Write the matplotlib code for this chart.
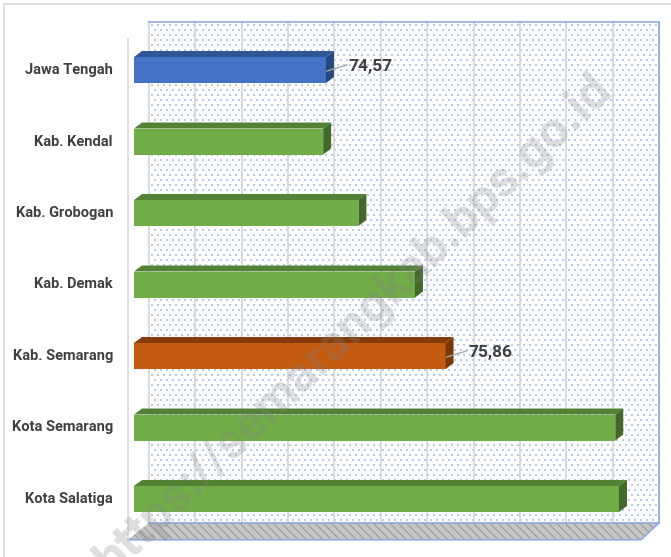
import numpy as np
import matplotlib.pyplot as plt
from matplotlib.patches import Polygon, Rectangle

# life expectancy by region
categories = ["Jawa Tengah", "Kab. Kendal", "Kab. Grobogan", "Kab. Demak",
              "Kab. Semarang", "Kota Semarang", "Kota Salatiga"]
values = [74.57, 74.54, 74.92, 75.53, 75.86, 77.69, 77.73]
labelled = ["Jawa Tengah", "Kab. Semarang"]

x_min, x_max, x_step = 72.5, 78.0, 0.5

W, H = 671, 557
PX_X = 510 / (x_max - x_min)     # pixels per value unit
PX_Y = 71.5                      # pixels per category
LEFT_PX = 134                    # front plane left edge
TOP_PX = 70                      # centre of first category
FONT = "Roboto"

face = {"Jawa Tengah": ("#4472C4", "#2F5597", "#264780"),
        "Kab. Semarang": ("#C55A11", "#843C0C", "#7A370B")}
green = ("#70AD47", "#548235", "#41692A")

fig = plt.figure(figsize=(W / 100, H / 100), dpi=100)
ax = fig.add_axes([0, 0, 1, 1])
ax.set_xlim(x_min - LEFT_PX / PX_X, x_min + (W - LEFT_PX) / PX_X)
ax.set_ylim((H - TOP_PX) / PX_Y, -TOP_PX / PX_Y)
ax.axis("off")


def P(x, y, dx=0, dy=0):
    # data point nudged by a pixel offset (dy positive = down)
    return (x + dx / PX_X, y + dy / PX_Y)


y_top, y_bot = -0.43, 6.57
BACK = (15, -17)

# back wall with dotted fill
wall = Polygon([P(x_min, y_top, *BACK), P(x_max, y_top, *BACK),
                P(x_max, y_bot, *BACK), P(x_min, y_bot, *BACK)],
               closed=True, facecolor="white", edgecolor="none", zorder=0)
ax.add_patch(wall)
x0, y0 = P(x_min, y_top, *BACK)
x1, y1 = P(x_max, y_bot, *BACK)
gx, gy = np.meshgrid(np.arange(0, 508, 6.0), np.arange(0, 498, 5.0))
gx = gx + (np.arange(gx.shape[0])[:, None] % 2) * 3 + 3
ax.scatter(x0 + gx.ravel() / PX_X, y0 + (gy.ravel() + 3) / PX_Y, s=0.9,
           marker="s", color="#8FAEE6", linewidths=0, alpha=0.65, zorder=1)

# vertical gridlines on the back wall
for v in np.arange(x_min, x_max + 1e-9, x_step):
    xa, ya = P(v, y_top, *BACK)
    xb, yb = P(v, y_bot, *BACK)
    ax.plot([xa, xb], [ya, yb], color="#D9D9D9", lw=1.3, zorder=2)

# wall border
ax.plot([x0, x1, x1], [y0, y0, y1], color="#8FAADC", lw=1.2, zorder=2)

# floor
plt.rcParams["hatch.linewidth"] = 0.8
floor = Polygon([P(x_min, y_bot, -6, 0), P(x_max, y_bot, -3, 0),
                 P(x_max, y_bot, *BACK), P(x_min, y_bot, *BACK)],
                closed=True, facecolor="#C6C6C6", edgecolor="#9A9A9A",
                hatch="\\\\\\\\", lw=0, zorder=2)
ax.add_patch(floor)
fx = [P(x_min, y_bot, -6, 0), P(x_max, y_bot, -3, 0), P(x_max, y_bot, *BACK)]
ax.plot([p[0] for p in fx], [p[1] for p in fx], color="#8FAADC", lw=1.2, zorder=3)
ax.plot([P(x_min, y_bot, *BACK)[0], P(x_max, y_bot, *BACK)[0]],
        [P(x_min, y_bot, *BACK)[1]] * 2, color="#8FAADC", lw=1.2, zorder=3)

# left axis line
ax.plot([P(x_min, y_top, -6, 0)[0]] * 2, [y_top, y_bot], color="#D9D9D9",
        lw=1.2, zorder=3)

# 3D bars
bh = 26 / PX_Y
DEP = (8, -6)
for i, (name, val) in enumerate(zip(categories, values)):
    front, top, side = face.get(name, green)
    ya, yb = i - bh / 2, i + bh / 2
    ax.add_patch(Rectangle((x_min, ya), val - x_min, bh, facecolor=front,
                           edgecolor="none", zorder=5))
    ax.add_patch(Polygon([P(x_min, ya), P(val, ya), P(val, ya, *DEP),
                          P(x_min, ya, *DEP)], facecolor=top,
                         edgecolor="none", zorder=5))
    ax.add_patch(Polygon([P(val, ya), P(val, yb), P(val, yb, *DEP),
                          P(val, ya, *DEP)], facecolor=side,
                         edgecolor="none", zorder=5))
    ax.text(*P(x_min, i, -21, 0), name, ha="right", va="center",
            fontsize=10.5, fontweight="bold", family=FONT, color="#404040")
    if name in labelled:
        la, lb = P(val, i, 1, 1), P(val, i, 21, -5)
        ax.plot([la[0], lb[0]], [la[1], lb[1]], color="#A6A6A6", lw=1, zorder=6)
        ax.text(*P(val, i, 23, -4), f"{val:.2f}".replace(".", ","),
                ha="left", va="center", fontsize=12.5, fontweight="bold",
                family=FONT, color="#404040", zorder=6)

# outer frame
fig.patches.append(Rectangle((3.5 / W, -0.1), 1.2, 1.1 - 3.5 / H,
                             transform=fig.transFigure, fill=False,
                             edgecolor="#D9D9D9", lw=1.2))

# watermark
fig.text(614 / W, 1 - 92 / H, "https://semarangkab.bps.go.id", rotation=44,
         rotation_mode="anchor", ha="right", va="baseline", fontsize=36,
         fontweight="bold", family=FONT, color="#808080", alpha=0.26,
         zorder=10)

fig.savefig("out.png", dpi=100)
